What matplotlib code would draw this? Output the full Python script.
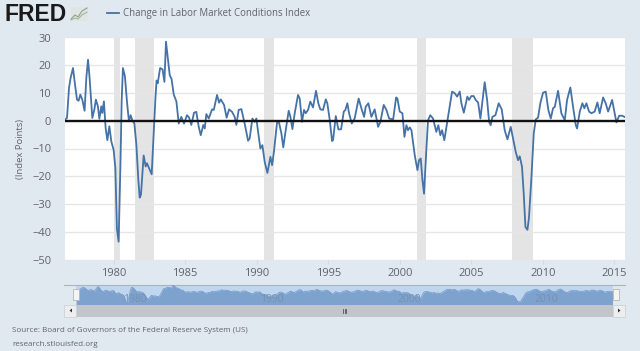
import matplotlib
matplotlib.use("Agg")
import matplotlib.pyplot as plt
from matplotlib.patches import Rectangle, Polygon

plt.rcParams['font.family'] = ['Open Sans', 'DejaVu Sans']

years = [1976.62,1976.74,1976.88,1976.99,1977.16,1977.30,1977.44,1977.55,1977.67,1977.81,1977.97,1978.09,1978.21,1978.32,1978.51,1978.65,1978.76,1978.90,1979.00,1979.14,1979.21,1979.32,1979.44,1979.56,1979.70,1979.84,1980.00,1980.12,1980.23,1980.35,1980.47,1980.56,1980.65,1980.79,1980.93,1981.07,1981.19,1981.31,1981.45,1981.59,1981.72,1981.82,1981.91,1982.10,1982.24,1982.33,1982.47,1982.66,1982.80,
 1982.92,1983.00,1983.08,1983.25,1983.42,1983.55,1983.66,1983.92,1984.05,1984.20,1984.33,
 1984.39,1984.55,1984.73,1984.92,1985.13,1985.27,1985.43,1985.62,1985.78,1985.95,1986.09,1986.27,1986.37,1986.48,1986.65,1986.88,1987.00,1987.23,1987.37,1987.49,1987.72,1987.90,1988.07,1988.28,1988.46,1988.58,1988.74,1988.93,1989.16,1989.40,1989.51,1989.70,1989.86,1989.98,1990.10,1990.26,1990.40,1990.56,1990.75,1990.96,1991.08,1991.22,1991.42,1991.56,1991.73,1991.86,
 1992.03,1992.24,1992.36,1992.50,1992.66,1992.89,1993.01,1993.17,1993.31,1993.43,1993.59,1993.75,1993.94,1994.15,1994.31,1994.45,1994.64,1994.83,1994.94,1995.11,1995.27,1995.34,1995.53,1995.71,1995.90,1996.09,1996.20,1996.34,1996.46,1996.65,1996.85,1997.13,1997.32,1997.51,1997.62,1997.81,1998.02,1998.25,1998.49,1998.65,1998.88,1999.07,1999.26,1999.54,1999.75,1999.84,
 2000.00,2000.19,2000.33,2000.47,2000.58,2000.70,2000.82,2001.05,2001.24,2001.35,2001.47,2001.59,2001.70,2001.86,2001.98,2002.14,2002.33,2002.56,2002.70,2002.84,2002.96,2003.12,2003.38,2003.66,2003.85,2004.01,2004.20,2004.31,2004.48,2004.73,2004.85,2005.01,2005.17,2005.31,2005.48,2005.64,2005.94,2006.11,2006.25,2006.36,2006.48,2006.69,2006.92,2007.13,2007.34,2007.53,2007.76,
 2007.97,2008.11,2008.27,2008.39,2008.55,2008.67,2008.79,2008.93,2009.04,2009.21,2009.37,2009.51,2009.67,2009.83,2010.02,2010.21,2010.39,2010.56,2010.72,2010.84,2011.07,2011.30,2011.54,2011.70,2011.93,2012.12,2012.31,2012.40,2012.59,2012.77,2012.91,2013.05,2013.24,2013.40,2013.63,2013.82,2013.98,2014.22,2014.40,2014.57,2014.85,2015.03,2015.15,2015.34,2015.57,2015.71]

values = [0.5,1,11.8,15.4,19,13,7.6,7.2,9.4,7.6,3.6,15.4,22,15.4,1,4,7.6,5.2,0.7,5.2,2.8,7,-2.6,-7,-2,-7.5,-10.5,-17,-39,-43.6,-17,7,19,16,7,-0.2,2,0,-1,-8.7,-20.7,-27.7,-26.7,-12.5,-16.5,-15.3,-17,-19.3,-5,
 8,14.5,13.5,19,18.5,14,28.5,16.5,15,9.5,7.7,
 6.9,-1,1.4,-1,2,1.2,-1.5,2.9,3.2,-2.2,-5.2,-1.5,-2.8,2.4,0.8,4.1,3.9,9.3,6.5,7.7,5.7,1.1,4.1,3.2,1.4,-1.5,3.9,4.2,-1,-7.2,-6.4,0.8,-0.4,0.8,-4,-10,-8.8,-14.8,-18.8,-13,-16,-10.6,-0.7,-0.6,-4.6,-9.6,
 -3.4,3.6,1.4,-3,2.7,9.3,8,-0.4,3.9,2.7,3.9,6.9,4.8,10.8,6.3,4.1,3.9,7.7,6.3,0.2,-7.3,-7,1.7,-3.1,-3.1,3.3,3.9,6.3,2.7,-1,0.8,8,4.5,1.4,5,6.3,1.4,4.1,-2.2,-0.4,5.7,3.9,0.8,0.5,8.4,8,
 3.3,2.7,-5.8,-1.6,-3.4,-2.4,-3.4,-12.4,-17.8,-14.2,-13.6,-21.4,-26.3,-10.6,0.2,2,0.8,-4,-1.6,-5.2,-3.4,-7,1.4,10.5,9.9,8.7,10.5,6.3,2.9,8.7,7.5,8.9,8.9,7.5,6.6,0.8,13.9,7.5,-0.4,-1.6,1.4,2,6.3,4.1,-3.4,-6.7,-2.2,
 -7.6,-11.2,-14.2,-12.8,-16.6,-26.3,-38.3,-39.3,-34.7,-20.2,-4.6,0.5,1.1,6.3,10.1,10.5,3.9,0.8,4.5,5,10.8,2.7,0.2,7.5,12,5,-1.6,-2.8,3.3,6.3,4.5,6.3,3.3,2.7,3.3,6.6,2.7,8.4,6.3,3.3,7.5,2.7,-0.6,1.8,1.8,1.4]

rec_start = [1980.00, 1981.50, 1990.50, 2001.20, 2007.85]
rec_end = [1980.45, 1982.80, 1991.20, 2001.85, 2009.30]
y_ticks = [30, 20, 10, 0, -10, -20, -30, -40, -50]
x_ticks = [1980, 1985, 1990, 1995, 2000, 2005, 2010, 2015]
nav_labels = [1980, 1990, 2000, 2010]
XMIN, XMAX = 1976.6, 2015.75

W, H = 640, 351
BG = '#e1e9f0'
BLUE = '#4572a7'
TXT = '#5f6469'

def pax(x0, y0, x1, y1, **kw):
    return fig.add_axes([x0 / W, 1 - y1 / H, (x1 - x0) / W, (y1 - y0) / H], **kw)

fig = plt.figure(figsize=(6.4, 3.51), dpi=100, facecolor=BG)

# main plot
ax = pax(65, 37.5, 625, 259.5)
ax.set_facecolor('white')
ax.set_xlim(XMIN, XMAX)
ax.set_ylim(-50, 30)
for a, b in zip(rec_start, rec_end):
    ax.axvspan(a, b, color='#e4e4e4', lw=0, zorder=1)
ax.set_yticks(y_ticks)
ax.set_xticks(x_ticks)
ax.grid(axis='y', color='#e6e6e6', lw=1, zorder=2)
ax.grid(axis='x', visible=False)
ax.tick_params(axis='y', length=0, labelsize=8, labelcolor=TXT, pad=10)
ax.tick_params(axis='x', length=3, width=0.8, color='#d5d8dc', labelsize=8, labelcolor=TXT, pad=3)
for s in ax.spines.values():
    s.set_visible(False)
ax.plot(years, values, color=BLUE, lw=1.3, zorder=3, solid_joinstyle='round')
ax.axhline(0, color='#111111', lw=1.7, zorder=4)

# navigator
nav = pax(64, 285, 625, 305)
nav.set_xlim(XMIN - (76 - 64) / 13.72, XMAX + (625 - 613) / 13.72)
nav.set_ylim(-52, 28)
nav.set_facecolor(BG)
nav.axvspan(XMIN, XMAX, color='#c0d6ee', lw=0, zorder=1)
nav.fill_between(years, values, -52, color='#7ea2ce', lw=0, zorder=2)
nav.plot(years, values, color='#6f96c6', lw=0.5, zorder=3)
nav.set_xticks([]); nav.set_yticks([])
for s in nav.spines.values():
    s.set_visible(False)
nav.spines['top'].set_visible(True)
nav.spines['top'].set_color('#a9b4c0')
nav.spines['top'].set_linewidth(0.8)
for yr in nav_labels:
    nav.text(yr + 0.05, -28, str(yr), ha='left', va='center', fontsize=7.5, color='#7690ae', zorder=4)

# figure-level overlay in pixel coordinates
ov = pax(0, 0, W, H)
ov.set_xlim(0, W); ov.set_ylim(H, 0)
ov.axis('off'); ov.patch.set_alpha(0)
ov.add_patch(Rectangle((76, 305), 537, 11.5, fc='#c2c6cb', ec='none'))
for x0 in (64, 613):
    ov.add_patch(Rectangle((x0, 305), 12, 11.5, fc='#eceef0', ec='#cfd2d6', lw=0.6))
ov.add_patch(Polygon([(72, 308.5), (72, 312.5), (69.5, 310.5)], fc='#333333', ec='none'))
ov.add_patch(Polygon([(618, 308.5), (618, 312.5), (620.5, 310.5)], fc='#333333', ec='none'))
for x0 in (73, 613):
    ov.add_patch(Rectangle((x0, 288.5), 5.5, 11.5, fc='#f4f4f4', ec='#b5b5b5', lw=0.6))
for gx in (343, 344.7, 346.4):
    ov.plot([gx, gx], [308.5, 312.5], color='#555555', lw=0.6)

# FRED logo
ov.text(4.5, 14.5, 'FRED', fontsize=16.5, fontweight='bold', color='#1a1a1a', ha='left', va='center', family='Liberation Sans')
ov.add_patch(Rectangle((71, 7), 17, 14, fc='#dfe5e2', ec='none'))
ov.plot([71, 75, 78, 82, 87], [19, 15, 17, 11, 8], color='#8aa58f', lw=0.8)
ov.plot([71, 75, 78, 82, 87], [20, 18, 19, 15, 12], color='#a8b59c', lw=0.8)

# legend, axis title and footer
ov.plot([107, 119], [13.3, 13.3], color=BLUE, lw=1.3)
ov.text(123, 13.3, 'Change in Labor Market Conditions Index', fontsize=6.9, color=TXT, ha='left', va='center')
ov.text(20, 149, '(Index Points)', fontsize=6.8, color=TXT, rotation=90, ha='center', va='center')
ov.text(12.5, 330, 'Source: Board of Governors of the Federal Reserve System (US)', fontsize=5.8, color=TXT, ha='left', va='center')
ov.text(12.5, 345, 'research.stlouisfed.org', fontsize=5.8, color=TXT, ha='left', va='center')

fig.savefig('out.png', dpi=100, facecolor=BG)
